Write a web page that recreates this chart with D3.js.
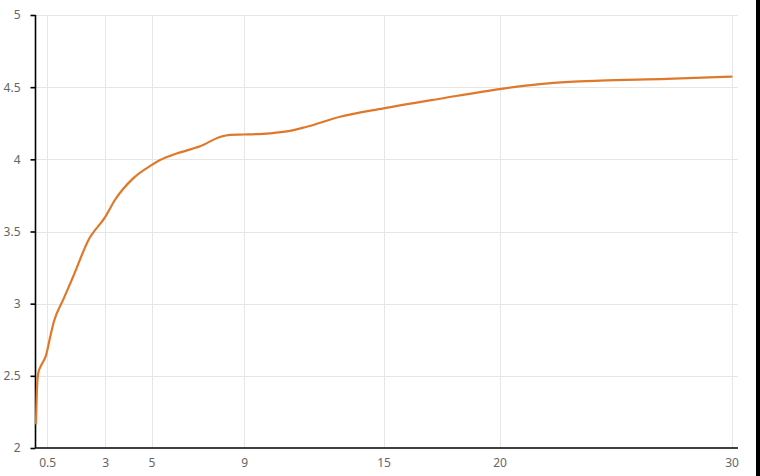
<!DOCTYPE html>
<html>
<head>
<meta charset="utf-8">
<script src="https://cdn.jsdelivr.net/npm/d3@7"></script>
<style>
  html, body { margin: 0; padding: 0; background: #fff; }
  svg { display: block; }
</style>
</head>
<body>
<svg id="chart" width="760" height="476"></svg>
<script>
// Data
const xValues = [0.02, 0.06, 0.12, 0.27, 0.45, 0.62, 0.8, 1.2, 1.63, 2.28, 3.0, 3.43, 4.22, 5.0, 5.37, 6.08, 7.09, 7.95, 8.39, 9.0, 10.1, 10.9, 11.69, 13.13, 15.0, 17.44, 20.0, 21.74, 23.0, 24.33, 27.2, 30.0];
const yValues = [2.17, 2.4, 2.52, 2.58, 2.64, 2.76, 2.88, 3.03, 3.19, 3.44, 3.6, 3.72, 3.87, 3.96, 3.995, 4.04, 4.09, 4.155, 4.17, 4.172, 4.18, 4.195, 4.226, 4.295, 4.353, 4.42, 4.487, 4.521, 4.536, 4.545, 4.557, 4.573];
const xTicks = [0.5, 3, 5, 9, 15, 20, 30];
const xTickLabels = ["0.5", "3", "5", "9", "15", "20", "30"];
const yTicks = [2, 2.5, 3, 3.5, 4, 4.5, 5];
const yTickLabels = ["2", "2.5", "3", "3.5", "4", "4.5", "5"];

(function () {
const svg = d3.select("#chart");
const W = 760, H = 476;
const mLeft = 35.5, mRight = 738, mTop = 15, mBottom = 448;

const x = d3.scaleLinear().domain([0, 30.28]).range([mLeft, mRight]);
const y = d3.scaleLinear().domain([2, 5]).range([mBottom, mTop]);

svg.append("rect").attr("width", W).attr("height", H).attr("fill", "#fff");

// grid
const grid = svg.append("g");
grid.selectAll("line.h").data(yTicks.slice(1)).join("line")
  .attr("class", "h")
  .attr("x1", mLeft).attr("x2", mRight)
  .attr("y1", d => Math.round(y(d)) + 0.5).attr("y2", d => Math.round(y(d)) + 0.5)
  .attr("stroke", "#e6e6e6").attr("stroke-width", 1);
grid.selectAll("line.v").data(xTicks).join("line")
  .attr("class", "v")
  .attr("x1", d => Math.round(x(d)) + 0.5).attr("x2", d => Math.round(x(d)) + 0.5)
  .attr("y1", mTop).attr("y2", mBottom)
  .attr("stroke", "#e6e6e6").attr("stroke-width", 1);

// y axis
const yAxis = d3.axisLeft(y).tickValues(yTicks)
  .tickFormat((d, i) => yTickLabels[i]).tickSize(5).tickPadding(10);
const gy = svg.append("g").attr("transform", `translate(${mLeft},0)`).call(yAxis);
gy.select(".domain").attr("stroke", "#000").attr("stroke-width", 1.6).attr("d", `M0,${mTop}V${mBottom}`);
gy.selectAll(".tick line").attr("stroke", "#000").attr("stroke-width", 1.6);
gy.selectAll(".tick text").attr("fill", "#666").style("font-family", "'Noto Sans', 'DejaVu Sans', sans-serif").style("font-size", "12px");

// x axis
const xAxis = d3.axisBottom(x).tickValues(xTicks)
  .tickFormat((d, i) => xTickLabels[i]).tickSize(0).tickPadding(10);
const gx = svg.append("g").attr("transform", `translate(0,${mBottom})`).call(xAxis);
gx.select(".domain").attr("stroke", "#000").attr("stroke-width", 1.6).attr("d", `M${mLeft},0H${mRight}`);
gx.selectAll(".tick text").attr("fill", "#666").style("font-family", "'Noto Sans', 'DejaVu Sans', sans-serif").style("font-size", "12px");

// line
const data = xValues.map((v, i) => [v, yValues[i]]);
const line = d3.line().x(d => x(d[0])).y(d => y(d[1])).curve(d3.curveMonotoneX);
svg.append("path").datum(data)
  .attr("d", line)
  .attr("fill", "none")
  .attr("stroke", "#e0782a")
  .attr("stroke-width", 2.2)
  .attr("stroke-linejoin", "round")
  .attr("stroke-linecap", "round");

// right edge dark strip
svg.append("rect").attr("x", 756).attr("y", 0).attr("width", 4).attr("height", H).attr("fill", "#000");
})();
</script>
</body>
</html>
